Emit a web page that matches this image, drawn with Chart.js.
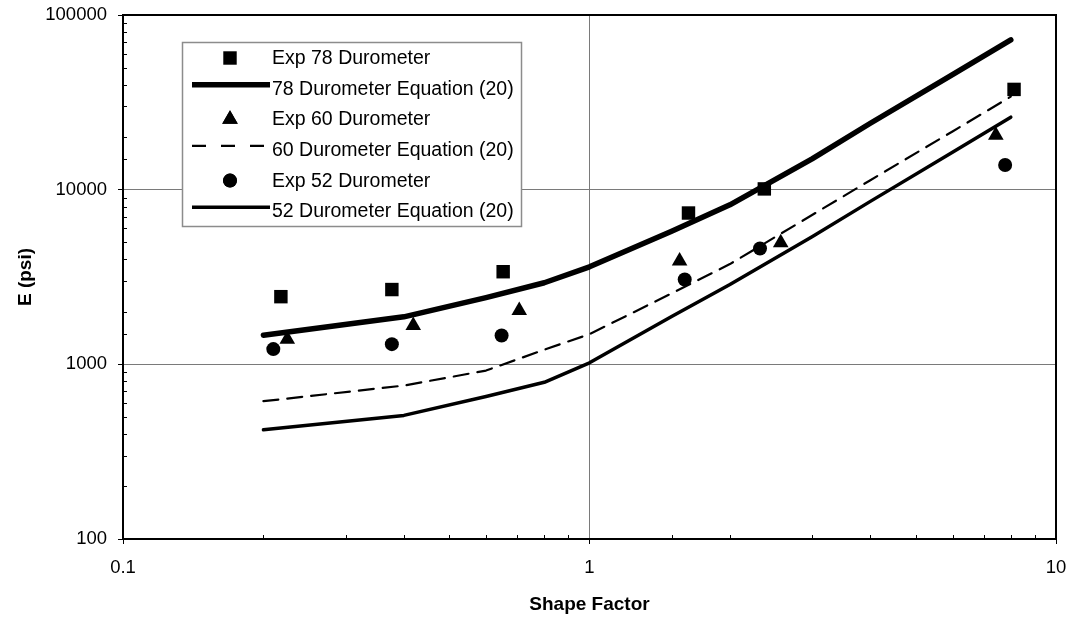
<!DOCTYPE html>
<html>
<head>
<meta charset="utf-8">
<script src="https://cdn.jsdelivr.net/npm/chart.js@4/dist/chart.umd.min.js"></script>
<style>
  html, body { margin: 0; padding: 0; background: #fff; }
  #wrap { width: 1072px; height: 617px; position: relative; }
</style>
</head>
<body>
<div id="wrap"><canvas id="c" width="1072" height="617"></canvas></div>
<script>
// ---- Data ----
const xTickLabels = ['0.1', '1', '10'];
const yTickLabels = ['100', '1000', '10000', '100000'];

const seriesNames = [
  'Exp 78 Durometer',
  '78 Durometer Equation (20)',
  'Exp 60 Durometer',
  '60 Durometer Equation (20)',
  'Exp 52 Durometer',
  '52 Durometer Equation (20)'
];

// experimental points
const exp78X = [0.218, 0.377, 0.653, 1.63, 2.37, 8.13];
const exp78Y = [2440, 2680, 3390, 7350, 10100, 37500];
const exp60X = [0.225, 0.419, 0.707, 1.56, 2.57, 7.43];
const exp60Y = [1394, 1668, 2030, 3910, 4960, 20500];
const exp52X = [0.21, 0.377, 0.648, 1.60, 2.32, 7.78];
const exp52Y = [1222, 1305, 1463, 3060, 4600, 13840];

// equation (20) curves
const eqX  = [0.2, 0.4, 0.6, 0.8, 1, 1.5, 2, 3, 4, 6, 8];
const eq78 = [1469, 1870, 2409, 2932, 3617, 5778, 8190, 15000, 24000, 45500, 72000];
const eq60 = [615, 756, 921, 1213, 1488, 2548, 3749, 7160, 11330, 21540, 34100];
const eq52 = [422, 510, 655, 789, 1020, 1877, 2868, 5383, 8570, 16400, 26000];

function pts(xs, ys) { return xs.map((x, i) => ({ x: x, y: ys[i] })); }

const FONT = "'Liberation Sans', Arial, Helvetica, sans-serif";
const isMajor = v => Math.abs(Math.log10(v) - Math.round(Math.log10(v))) < 1e-9;
const noPad = s => { s.paddingTop = 0; s.paddingBottom = 0; s.paddingLeft = 0; s.paddingRight = 0; };

// plugin: plot frame, inward minor ticks, legend box
const framePlugin = {
  id: 'frame',
  beforeDatasetsDraw(chart) {
    const { ctx, chartArea: a } = chart;
    ctx.save();
    ctx.strokeStyle = '#000';
    ctx.lineWidth = 1;
    const xs = chart.scales.x, ys = chart.scales.y;
    xs.ticks.forEach(t => {
      if (isMajor(t.value)) return;
      const px = Math.round(xs.getPixelForValue(t.value)) + 0.5;
      ctx.beginPath(); ctx.moveTo(px, a.bottom); ctx.lineTo(px, a.bottom - 4); ctx.stroke();
    });
    ys.ticks.forEach(t => {
      if (isMajor(t.value)) return;
      const py = Math.round(ys.getPixelForValue(t.value)) + 0.5;
      ctx.beginPath(); ctx.moveTo(a.left, py); ctx.lineTo(a.left + 4, py); ctx.stroke();
    });
    ctx.lineWidth = 2;
    ctx.strokeRect(a.left, a.top, a.right - a.left, a.bottom - a.top);
    ctx.restore();
  },
  afterDraw(chart) {
    const { ctx } = chart;
    const box = { x: 182, y: 42, w: 339, h: 184 };
    ctx.save();
    ctx.fillStyle = '#fff';
    ctx.fillRect(box.x, box.y, box.w, box.h);
    ctx.strokeStyle = '#8c8c8c';
    ctx.lineWidth = 1.5;
    ctx.strokeRect(box.x + 0.5, box.y + 0.5, box.w, box.h);
    const symX = 230, lineX0 = 192, lineX1 = 270, textX = 272;
    chart.data.datasets.forEach((ds, i) => {
      const base = 64 + i * 30.65;
      if (ds.showLine) {
        const ly = base - 10;
        ctx.save();
        ctx.strokeStyle = '#000';
        ctx.lineWidth = ds.borderWidth;
        ctx.lineCap = 'butt';
        ctx.setLineDash(ds.borderDash && ds.borderDash.length ? [14, 15] : []);
        ctx.beginPath(); ctx.moveTo(lineX0, ly); ctx.lineTo(lineX1, ly); ctx.stroke();
        ctx.restore();
      } else {
        Chart.helpers.drawPoint(ctx, {
          pointStyle: ds.pointStyle, radius: ds.pointRadius, borderWidth: 0, rotation: 0
        }, symX, base - 6);
        ctx.fillStyle = '#000';
        ctx.fill();
      }
      ctx.fillStyle = '#000';
      ctx.font = '19.5px ' + FONT;
      ctx.textAlign = 'left';
      ctx.textBaseline = 'alphabetic';
      ctx.fillText(ds.label, textX, base);
    });
    ctx.restore();
  }
};

const markerDs = (label, data, style, r) => ({
  label, data, showLine: false, pointStyle: style, pointRadius: r,
  pointBackgroundColor: '#000', pointBorderColor: '#000', pointBorderWidth: 0,
  pointHoverRadius: r
});
const lineDs = (label, data, w, dash) => ({
  label, data, showLine: true, borderColor: '#000', borderWidth: w,
  borderDash: dash, pointRadius: 0, pointHoverRadius: 0, fill: false, tension: 0,
  borderCapStyle: 'round', borderJoinStyle: 'round'
});

new Chart(document.getElementById('c'), {
  type: 'scatter',
  data: {
    datasets: [
      markerDs(seriesNames[0], pts(exp78X, exp78Y), 'rect', 9.5),
      lineDs(seriesNames[1], pts(eqX, eq78), 5.5, []),
      markerDs(seriesNames[2], pts(exp60X, exp60Y), 'triangle', 9),
      lineDs(seriesNames[3], pts(eqX, eq60), 2.2, [15, 9]),
      markerDs(seriesNames[4], pts(exp52X, exp52Y), 'circle', 7),
      lineDs(seriesNames[5], pts(eqX, eq52), 3.5, [])
    ]
  },
  options: {
    responsive: false,
    animation: false,
    layout: { padding: { top: 15, right: 16, left: 0, bottom: 0 } },
    plugins: { legend: { display: false }, tooltip: { enabled: false } },
    scales: {
      x: {
        type: 'logarithmic', min: 0.1, max: 10,
        afterFit(s) { s.height = 78; noPad(s); },
        border: { display: false },
        grid: {
          color: c => (c.tick && isMajor(c.tick.value)) ? '#7a7a7a' : 'rgba(0,0,0,0)',
          tickColor: c => (c.tick && isMajor(c.tick.value)) ? '#000' : 'rgba(0,0,0,0)',
          lineWidth: 1, tickLength: 5, drawTicks: true
        },
        ticks: {
          autoSkip: false, maxRotation: 0, padding: 13,
          color: '#000', font: { family: FONT, size: 18.5 },
          callback: v => {
            if (!isMajor(v)) return '';
            const lbl = v < 1 ? v.toFixed(1) : String(Math.round(v));
            return xTickLabels.includes(lbl) ? lbl : '';
          }
        },
        title: {
          display: true, text: 'Shape Factor', color: '#000',
          font: { family: FONT, size: 19, weight: 'bold' }, padding: { top: 0, bottom: 1 }
        }
      },
      y: {
        type: 'logarithmic', min: 100, max: 100000,
        afterFit(s) { s.width = 123; noPad(s); },
        border: { display: false },
        grid: {
          color: c => (c.tick && isMajor(c.tick.value)) ? '#7a7a7a' : 'rgba(0,0,0,0)',
          tickColor: c => (c.tick && isMajor(c.tick.value)) ? '#000' : 'rgba(0,0,0,0)',
          lineWidth: 1, tickLength: 5, drawTicks: true
        },
        ticks: {
          autoSkip: false, padding: 11,
          color: '#000', font: { family: FONT, size: 18.5 },
          callback: v => {
            if (!isMajor(v)) return '';
            const lbl = String(Math.round(v));
            return yTickLabels.includes(lbl) ? lbl : '';
          }
        },
        title: {
          display: true, text: 'E (psi)', color: '#000',
          font: { family: FONT, size: 19, weight: 'bold' }, padding: { top: 14, bottom: 0 }
        }
      }
    }
  },
  plugins: [framePlugin]
});
</script>
</body>
</html>
